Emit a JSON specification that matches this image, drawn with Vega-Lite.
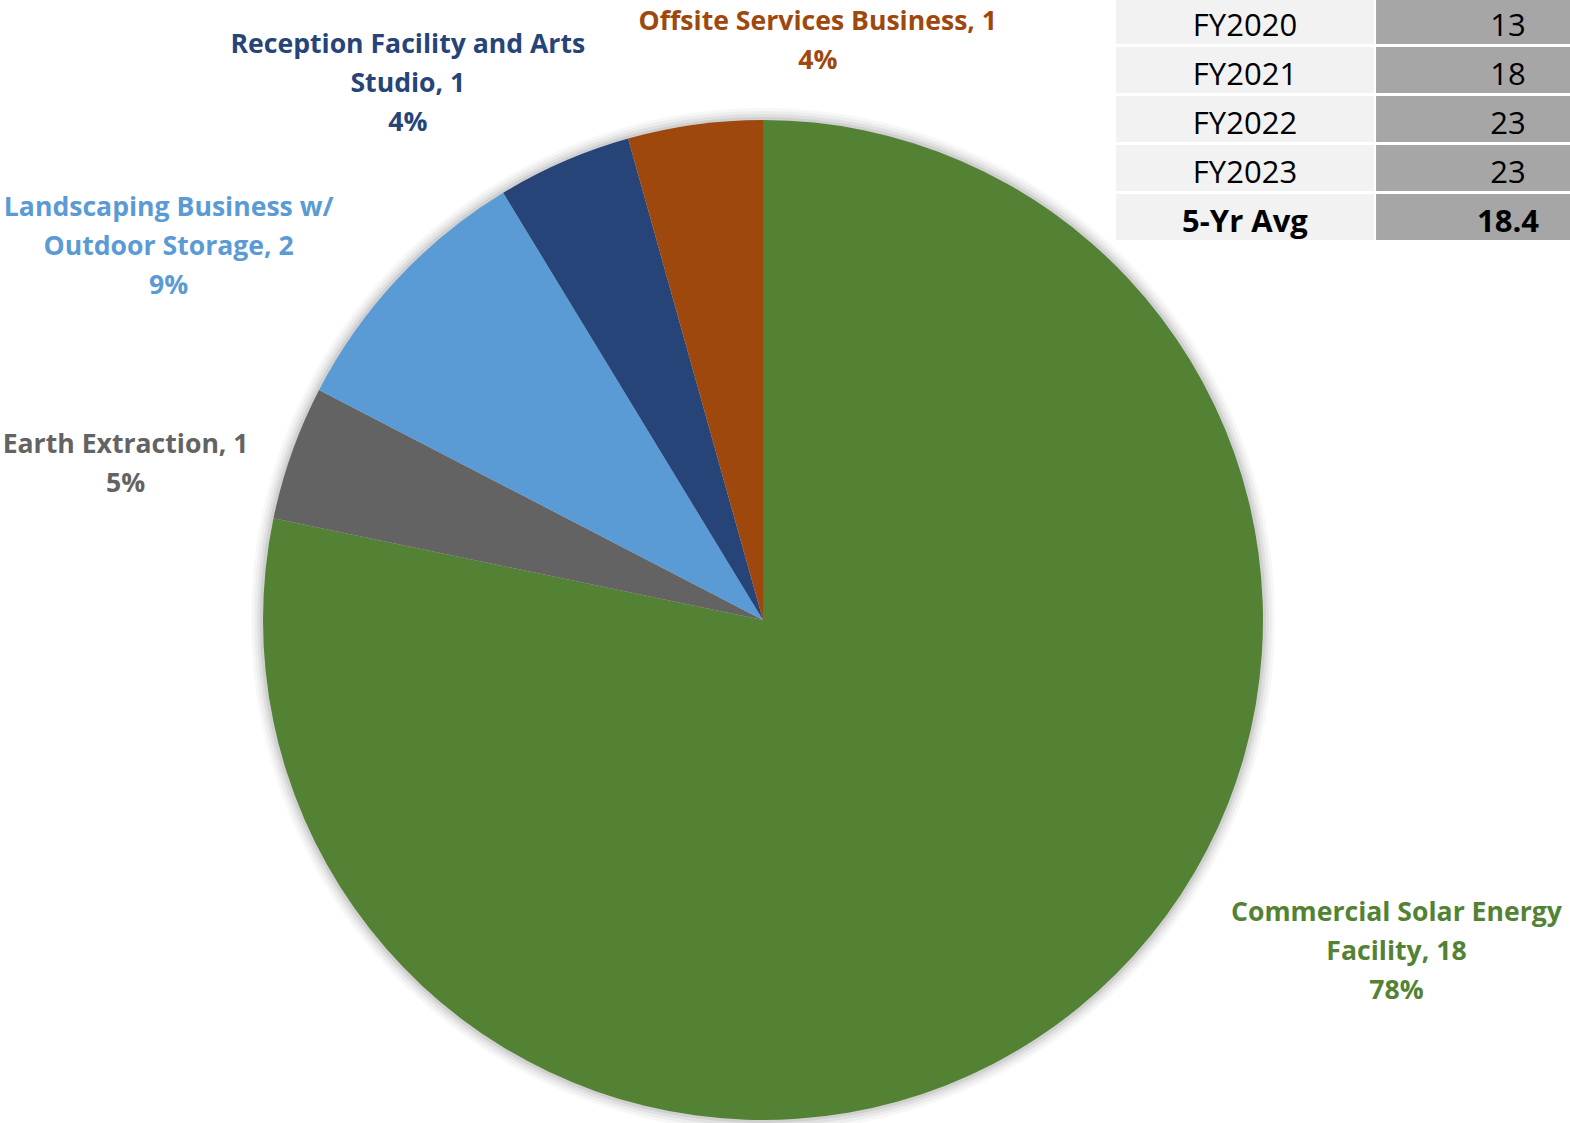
{
  "$schema": "https://vega.github.io/schema/vega-lite/v6.json",
  "width": 1526,
  "height": 1006,
  "autosize": {"type": "none"},
  "padding": {"left": 0, "top": 117, "right": 44, "bottom": 0},
  "background": "white",
  "config": {"view": {"stroke": null}},
  "datasets": {
    "uses": [
      {"use": "Commercial Solar Energy Facility", "count": 18, "idx": 1, "label": "Commercial Solar Energy\nFacility, 18\n78%"},
      {"use": "Earth Extraction", "count": 1, "idx": 2, "label": "Earth Extraction, 1\n5%"},
      {"use": "Landscaping Business w/ Outdoor Storage", "count": 2, "idx": 3, "label": "Landscaping Business w/\nOutdoor Storage, 2\n9%"},
      {"use": "Reception Facility and Arts Studio", "count": 1, "idx": 4, "label": "Reception Facility and Arts\nStudio, 1\n4%"},
      {"use": "Offsite Services Business", "count": 1, "idx": 5, "label": "Offsite Services Business, 1\n4%"}
    ],
    "table": [
      {"period": "FY2020", "count": 13},
      {"period": "FY2021", "count": 18},
      {"period": "FY2022", "count": 23},
      {"period": "FY2023", "count": 23},
      {"period": "5-Yr Avg", "count": 18.4}
    ],
    "whole": [{"shape": "pie"}]
  },
  "layer": [
    {"data": {"name": "whole"}, "mark": {"type": "arc", "theta": 0, "theta2": 6.2832, "radius": 512, "color": "#000000", "opacity": 0.03}, "encoding": {}},
    {"data": {"name": "whole"}, "mark": {"type": "arc", "theta": 0, "theta2": 6.2832, "radius": 509, "color": "#000000", "opacity": 0.04}, "encoding": {}},
    {"data": {"name": "whole"}, "mark": {"type": "arc", "theta": 0, "theta2": 6.2832, "radius": 506, "color": "#000000", "opacity": 0.05}, "encoding": {}},
    {"data": {"name": "whole"}, "mark": {"type": "arc", "theta": 0, "theta2": 6.2832, "radius": 503, "color": "#000000", "opacity": 0.07}, "encoding": {}},
    {
      "data": {"name": "uses"},
      "mark": {"type": "arc", "radius": 500, "strokeWidth": 0},
      "encoding": {
        "theta": {"field": "count", "type": "quantitative", "stack": true},
        "order": {"field": "idx", "type": "quantitative"},
        "color": {
          "field": "use", "type": "nominal", "legend": null,
          "scale": {
            "domain": ["Commercial Solar Energy Facility", "Earth Extraction", "Landscaping Business w/ Outdoor Storage", "Reception Facility and Arts Studio", "Offsite Services Business"],
            "range": ["#548235", "#636363", "#5b9bd5", "#264478", "#9e480e"]
          }
        }
      }
    },
    {
      "data": {"name": "uses"},
      "mark": {"type": "text", "radius": 530, "dx": 299, "dy": -118, "font": "Open Sans", "fontWeight": "bold", "fontSize": 26.6, "lineBreak": "\n", "lineHeight": 39, "align": "center", "baseline": "middle"},
      "encoding": {
        "theta": {"field": "count", "type": "quantitative", "stack": true},
        "order": {"field": "idx", "type": "quantitative"},
        "color": {"field": "use", "type": "nominal", "legend": null},
        "text": {"condition": {"test": "datum.idx === 1", "field": "label"}, "value": ""}
      }
    },
    {
      "data": {"name": "uses"},
      "mark": {"type": "text", "radius": 530, "dx": -138, "dy": 2, "font": "Open Sans", "fontWeight": "bold", "fontSize": 26.6, "lineBreak": "\n", "lineHeight": 39, "align": "center", "baseline": "middle"},
      "encoding": {
        "theta": {"field": "count", "type": "quantitative", "stack": true},
        "order": {"field": "idx", "type": "quantitative"},
        "color": {"field": "use", "type": "nominal", "legend": null},
        "text": {"condition": {"test": "datum.idx === 2", "field": "label"}, "value": ""}
      }
    },
    {
      "data": {"name": "uses"},
      "mark": {"type": "text", "radius": 530, "dx": -207, "dy": -50, "font": "Open Sans", "fontWeight": "bold", "fontSize": 26.6, "lineBreak": "\n", "lineHeight": 39, "align": "center", "baseline": "middle"},
      "encoding": {
        "theta": {"field": "count", "type": "quantitative", "stack": true},
        "order": {"field": "idx", "type": "quantitative"},
        "color": {"field": "use", "type": "nominal", "legend": null},
        "text": {"condition": {"test": "datum.idx === 3", "field": "label"}, "value": ""}
      }
    },
    {
      "data": {"name": "uses"},
      "mark": {"type": "text", "radius": 530, "dx": -144, "dy": -89, "font": "Open Sans", "fontWeight": "bold", "fontSize": 26.6, "lineBreak": "\n", "lineHeight": 39, "align": "center", "baseline": "middle"},
      "encoding": {
        "theta": {"field": "count", "type": "quantitative", "stack": true},
        "order": {"field": "idx", "type": "quantitative"},
        "color": {"field": "use", "type": "nominal", "legend": null},
        "text": {"condition": {"test": "datum.idx === 4", "field": "label"}, "value": ""}
      }
    },
    {
      "data": {"name": "uses"},
      "mark": {"type": "text", "radius": 530, "dx": 127, "dy": -73, "font": "Open Sans", "fontWeight": "bold", "fontSize": 26.6, "lineBreak": "\n", "lineHeight": 39, "align": "center", "baseline": "middle"},
      "encoding": {
        "theta": {"field": "count", "type": "quantitative", "stack": true},
        "order": {"field": "idx", "type": "quantitative"},
        "color": {"field": "use", "type": "nominal", "legend": null},
        "text": {"condition": {"test": "datum.idx === 5", "field": "label"}, "value": ""}
      }
    },
    {
      "data": {"name": "table"},
      "mark": {"type": "rect", "color": "#f2f2f2"},
      "encoding": {
        "x": {"datum": "Period", "type": "nominal", "axis": null, "scale": {"type": "band", "domain": ["Period", "Count"], "range": [1116, 1634], "paddingInner": 0.008, "paddingOuter": 0}},
        "y": {"field": "period", "type": "nominal", "axis": null, "scale": {"type": "band", "domain": ["FY2020", "FY2021", "FY2022", "FY2023", "5-Yr Avg"], "range": [-119, 123], "paddingInner": 0.06, "paddingOuter": 0}}
      }
    },
    {
      "data": {"name": "table"},
      "mark": {"type": "rect", "color": "#a6a6a6"},
      "encoding": {
        "x": {"datum": "Count", "type": "nominal"},
        "y": {"field": "period", "type": "nominal"}
      }
    },
    {
      "data": {"name": "table"},
      "transform": [{"filter": "datum.period !== '5-Yr Avg'"}],
      "mark": {"type": "text", "font": "Open Sans", "fontSize": 31, "dy": 6, "color": "#000000", "align": "center", "baseline": "middle"},
      "encoding": {
        "x": {"datum": "Period", "type": "nominal"},
        "y": {"field": "period", "type": "nominal"},
        "text": {"field": "period"}
      }
    },
    {
      "data": {"name": "table"},
      "transform": [{"filter": "datum.period !== '5-Yr Avg'"}],
      "mark": {"type": "text", "font": "Open Sans", "fontSize": 31, "dy": 6, "dx": 3, "color": "#000000", "align": "center", "baseline": "middle"},
      "encoding": {
        "x": {"datum": "Count", "type": "nominal"},
        "y": {"field": "period", "type": "nominal"},
        "text": {"field": "count"}
      }
    },
    {
      "data": {"name": "table"},
      "transform": [{"filter": "datum.period === '5-Yr Avg'"}],
      "mark": {"type": "text", "font": "Open Sans", "fontWeight": "bold", "fontSize": 31, "dy": 6, "color": "#000000", "align": "center", "baseline": "middle"},
      "encoding": {
        "x": {"datum": "Period", "type": "nominal"},
        "y": {"field": "period", "type": "nominal"},
        "text": {"field": "period"}
      }
    },
    {
      "data": {"name": "table"},
      "transform": [{"filter": "datum.period === '5-Yr Avg'"}],
      "mark": {"type": "text", "font": "Open Sans", "fontWeight": "bold", "fontSize": 31, "dy": 6, "dx": 3, "color": "#000000", "align": "center", "baseline": "middle"},
      "encoding": {
        "x": {"datum": "Count", "type": "nominal"},
        "y": {"field": "period", "type": "nominal"},
        "text": {"field": "count"}
      }
    }
  ]
}
